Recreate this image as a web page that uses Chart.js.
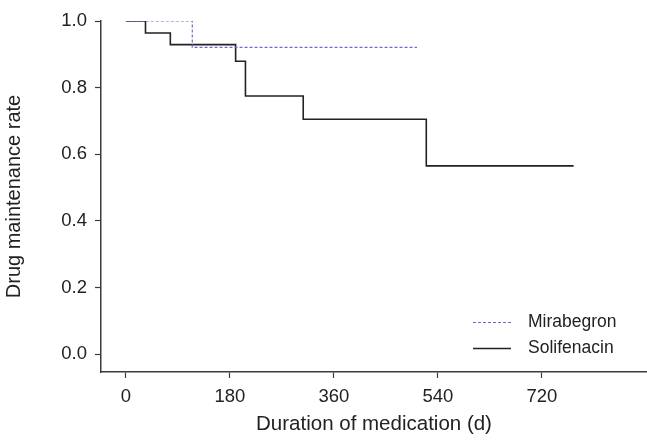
<!DOCTYPE html>
<html>
<head>
<meta charset="utf-8">
<script src="https://cdn.jsdelivr.net/npm/chart.js@4/dist/chart.umd.min.js"></script>
<style>
  html, body { margin: 0; padding: 0; background: #fff; }
  #wrap { width: 647px; height: 441px; position: relative; }
</style>
</head>
<body>
<div id="wrap"><canvas id="chart"></canvas></div>
<script>
// Kaplan-Meier style step curves.
const mirabegronDays = [0, 115, 504];
const mirabegronRate = [1.0, 0.921, 0.921];
const solifenacinDays = [0, 34, 77, 190, 207, 307, 520, 775];
const solifenacinRate = [1.0, 0.964, 0.929, 0.879, 0.775, 0.705, 0.565, 0.565];
const xTicks = [0, 180, 360, 540, 720];
const yTicks = [0.0, 0.2, 0.4, 0.6, 0.8, 1.0];

const FONT = "'Liberation Sans', Arial, Helvetica, sans-serif";
const AXIS = "#3c3c3c";
const TEXT = "#222222";

const toPoints = (xs, ys) => xs.map((x, i) => ({ x, y: ys[i] }));

// Legend drawn inside the plot, bottom right, like the original figure.
const innerLegend = {
  id: "innerLegend",
  afterDraw(chart) {
    const { ctx, chartArea } = chart;
    const x0 = chartArea.left + 372;
    const rows = [chartArea.top + 301, chartArea.top + 327];
    ctx.save();
    ctx.font = "17.5px " + FONT;
    ctx.textBaseline = "middle";
    chart.data.datasets.forEach((ds, i) => {
      const y = rows[i];
      ctx.beginPath();
      ctx.strokeStyle = ds.borderColor;
      ctx.lineWidth = ds.borderWidth;
      ctx.setLineDash(ds.borderDash || []);
      ctx.moveTo(x0, y + 0.5);
      ctx.lineTo(x0 + 38, y + 0.5);
      ctx.stroke();
      ctx.setLineDash([]);
      ctx.fillStyle = TEXT;
      ctx.fillText(ds.label, x0 + 55, y);
    });
    ctx.restore();
  },
};

new Chart(document.getElementById("chart"), {
  type: "line",
  data: {
    datasets: [
      {
        label: "Mirabegron",
        data: toPoints(mirabegronDays, mirabegronRate),
        borderColor: "#7467d4",
        borderWidth: 1.2,
        borderDash: [3, 2],
        stepped: true,
        pointRadius: 0,
        fill: false,
      },
      {
        label: "Solifenacin",
        data: toPoints(solifenacinDays, solifenacinRate),
        borderColor: "#222222",
        borderWidth: 1.6,
        stepped: true,
        pointRadius: 0,
        fill: false,
      },
    ],
  },
  options: {
    responsive: true,
    maintainAspectRatio: false,
    animation: false,
    layout: { padding: { top: 21, right: 0, left: 0, bottom: 0 } },
    plugins: { legend: { display: false }, tooltip: { enabled: false } },
    scales: {
      x: {
        type: "linear",
        min: -43,
        max: 902,
        afterBuildTicks: (s) => { s.ticks = xTicks.map((v) => ({ value: v })); },
        afterFit: (s) => { s.height = 69; },
        border: { color: AXIS, width: 1.5 },
        grid: { drawOnChartArea: false, tickLength: 6, tickColor: AXIS, tickWidth: 1.2 },
        ticks: { color: TEXT, font: { family: FONT, size: 18.5 }, padding: 8, maxRotation: 0 },
        title: {
          display: true,
          text: "Duration of medication (d)",
          color: TEXT,
          font: { family: FONT, size: 20.5 },
          padding: { top: 0, bottom: 4 },
        },
      },
      y: {
        min: -0.054,
        max: 1.0,
        afterBuildTicks: (s) => { s.ticks = yTicks.map((v) => ({ value: v })); },
        afterFit: (s) => { s.width = 101; },
        border: { color: AXIS, width: 1.5 },
        grid: { drawOnChartArea: false, tickLength: 6, tickColor: AXIS, tickWidth: 1.2 },
        ticks: {
          color: TEXT,
          font: { family: FONT, size: 18.5 },
          padding: 8,
          callback: (v) => v.toFixed(1),
        },
        title: {
          display: true,
          text: "Drug maintenance rate",
          color: TEXT,
          font: { family: FONT, size: 20 },
          padding: { top: 2, bottom: 0 },
        },
      },
    },
  },
  plugins: [innerLegend],
});
</script>
</body>
</html>
